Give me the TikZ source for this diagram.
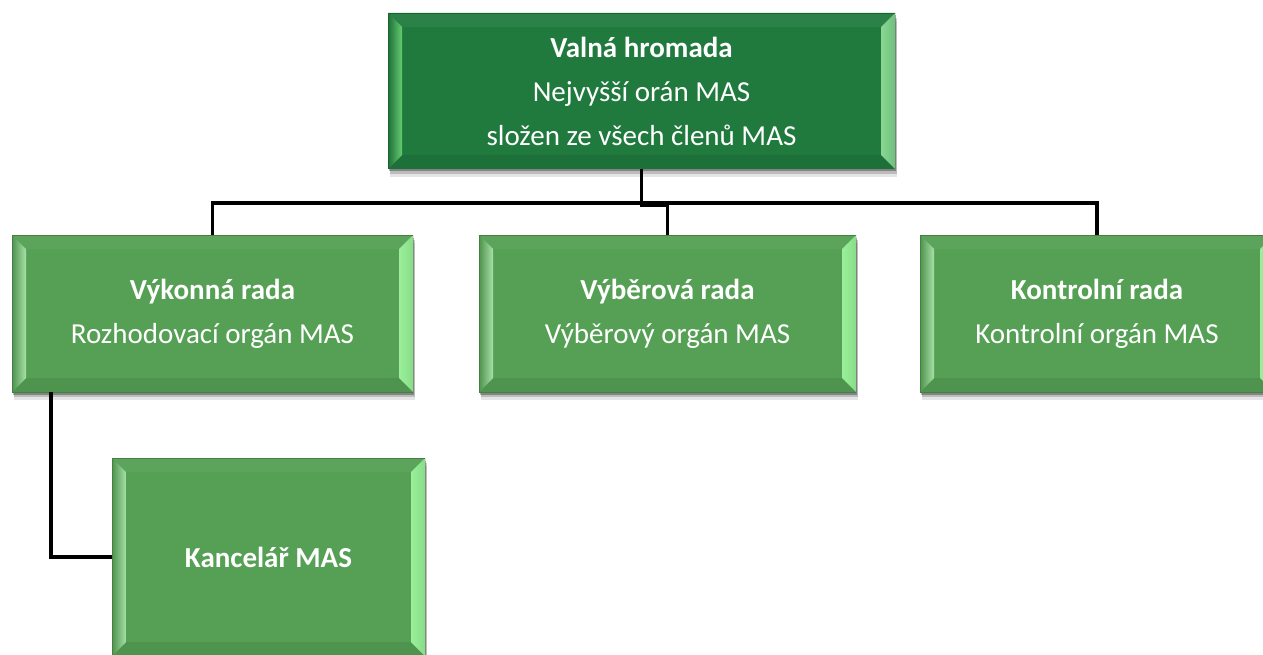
\documentclass[tikz,border=0pt]{standalone}
\usepackage{fontspec}
\setmainfont{Carlito}
\usetikzlibrary{calc,positioning,shadows}
\definecolor{vhgreen}{RGB}{32,122,62}
\definecolor{radagreen}{RGB}{85,160,85}

\begin{document}
\begin{tikzpicture}[x=1pt,y=-1pt]

\tikzset{orgbox/.style={shape=rectangle,inner sep=0pt,outer sep=0pt,text=white,align=center,font=\fontsize{29}{44}\selectfont,
  drop shadow={shadow xshift=2pt,shadow yshift=-8pt,opacity=0.10,fill=black},
  drop shadow={shadow xshift=1.5pt,shadow yshift=-5pt,opacity=0.18,fill=black},
  drop shadow={shadow xshift=1pt,shadow yshift=-2.5pt,opacity=0.30,fill=black}},
bevel/.style n args={6}{fill=#1,path picture={
  \coordinate (nw) at (path picture bounding box.north west);
  \coordinate (ne) at (path picture bounding box.north east);
  \coordinate (sw) at (path picture bounding box.south west);
  \coordinate (se) at (path picture bounding box.south east);
  \fill[#2] (nw) -- (ne) -- ($(ne)+(-14,14)$) -- ($(nw)+(14,14)$) -- cycle;
  \fill[#3] (sw) -- (se) -- ($(se)+(-14,-14)$) -- ($(sw)+(14,-14)$) -- cycle;
  \shade[left color=#1!92!black,right color=#4] (nw) -- ($(nw)+(14,14)$) -- ($(sw)+(14,-14)$) -- (sw) -- cycle;
  \shade[left color=#5,right color=#5!75!#1] (ne) -- ($(ne)+(-14,14)$) -- ($(se)+(-14,-14)$) -- (se) -- cycle;
  \draw[#6,line width=0.8pt] (nw) rectangle (se);
}},
vhbox/.style={orgbox,bevel={vhgreen}{vhgreen!95!white}{vhgreen!92!black}{green!40!vhgreen!65!white}{green!40!vhgreen!50!white}{vhgreen!80!black}},
radabox/.style={orgbox,bevel={radagreen}{radagreen!96!white}{radagreen!92!black}{green!30!radagreen!45!white}{green!65!radagreen!45!white}{radagreen!80!black}},
link/.style={line width=3.4pt,line join=miter}}

\clip (0,0) rectangle (1263,655);

% Valna hromada
\node[vhbox,minimum width=507pt,minimum height=156pt] (vh) at (641.5,91) {\textbf{Valná hromada}\\Nejvyšší orán MAS\\složen ze všech členů MAS};

% rady
\node[radabox,minimum width=401pt,minimum height=157pt] (vr) at (212.5,313.5) {\textbf{Výkonná rada}\\Rozhodovací orgán MAS};
\node[radabox,minimum width=377pt,minimum height=157pt] (vyb) at (667.5,313.5) {\textbf{Výběrová rada}\\Výběrový orgán MAS};
\node[radabox,minimum width=354pt,minimum height=157pt] (kr) at (1097,313.5) {\textbf{Kontrolní rada}\\Kontrolní orgán MAS};

% kancelar
\node[radabox,minimum width=313pt,minimum height=198pt] (kanc) at (268.5,557) {\textbf{Kancelář MAS}};

% Edges
\coordinate (bus) at ($(vh.south)+(0,34)$);
\draw[link] (vh.south) -- (bus) -| (vr.north);
\draw[link] (bus) -| (kr.north);
\draw[link] (vh.south) |- ($(vyb.north)+(0,-30)$) -- (vyb.north);
\draw[link] ($(vr.south west)+(39,0)$) |- (kanc.west);

\end{tikzpicture}
\end{document}
